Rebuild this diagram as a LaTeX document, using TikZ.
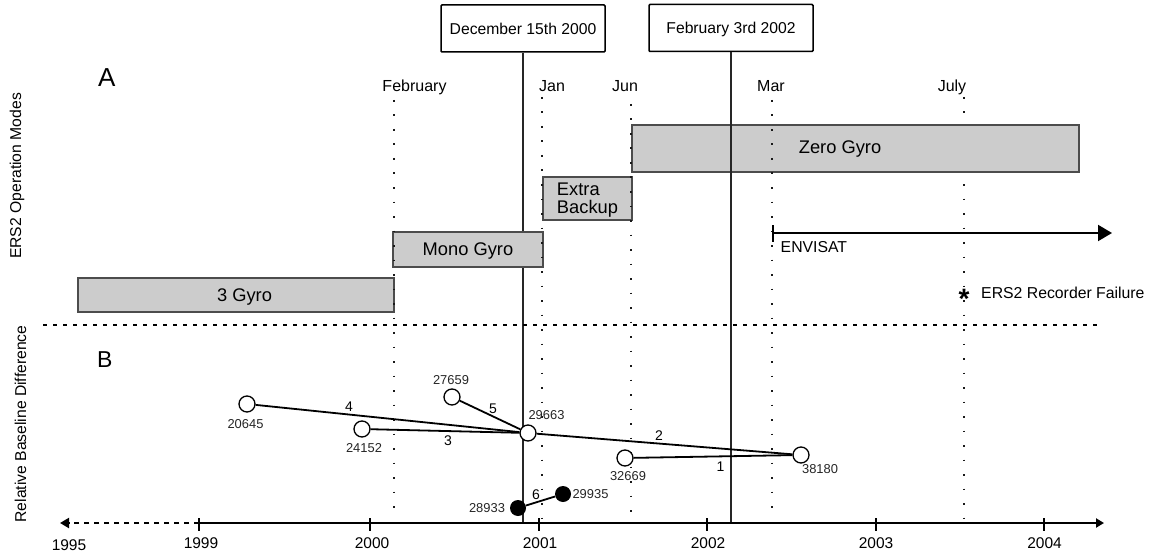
\documentclass[tikz,border=0pt]{standalone}
\usepackage{fontspec}
\setmainfont{Liberation Sans}
\usetikzlibrary{arrows.meta}
\begin{document}
\begin{tikzpicture}[x=1pt,y=-1pt,
  modebox/.style={draw=black!70, line width=1.4pt, fill=black!20, inner sep=0pt, text depth=0pt, font=\fontsize{18.3}{17.6}\selectfont},
  modetext/.style={inner sep=0pt, text depth=0pt, font=\fontsize{18.3}{17.6}\selectfont},
  datebox/.style={draw=black, line width=1.5pt, fill=white, rounded corners=1pt, inner sep=0pt, text depth=0pt, minimum width=164pt, minimum height=47pt, font=\fontsize{15.7}{18}\selectfont},
  monthlbl/.style={anchor=base, inner sep=0pt, font=\fontsize{16}{18}\selectfont},
  yearlbl/.style={anchor=base, inner sep=0pt, font=\fontsize{15.5}{18}\selectfont},
  numlbl/.style={anchor=base, inner sep=0pt, text=black!85, font=\fontsize{12.9}{15}\selectfont},
  edgelbl/.style={anchor=base, inner sep=0pt, font=\fontsize{14}{16}\selectfont},
  axislbl/.style={rotate=90, inner sep=0pt, font=\fontsize{15.7}{18}\selectfont},
  infolbl/.style={anchor=base west, inner sep=0pt, font=\fontsize{15.8}{18}\selectfont},
  panellbl/.style={anchor=base west, inner sep=0pt},
  dotline/.style={line width=1.8pt, dash pattern=on 1.8pt off 12.7pt, black!90},
  eventline/.style={line width=2pt, black!85},
  ocirc/.style={circle, draw=black, line width=1.3pt, fill=white, minimum size=16pt, inner sep=0pt},
  fcirc/.style={circle, fill=black, minimum size=16pt, inner sep=0pt},
  link/.style={line width=1.8pt, black},
  tick/.style={line width=2pt, black}
]
\useasboundingbox (0,0) rectangle (1155,556);

% panel labels
\node[panellbl, font=\fontsize{26}{28}\selectfont] (panA) at (98,87) {A};
\node[panellbl, font=\fontsize{23}{26}\selectfont] (panB) at (97,367) {B};
\node[axislbl] (ylabA) at (17,176) {ERS2 Operation Modes};
\node[axislbl] (ylabB) at (20.5,424) {Relative Baseline Difference};

% date boxes
\node[datebox] (decbox) at (523,28.5) {December 15th 2000};
\node[datebox] (febbox) at (731,28) {February 3rd 2002};

% axis coordinates
\coordinate (axL) at (60,523);
\coordinate (ax99) at (199,523);
\coordinate (axR) at (1104,523);

% December line (behind boxes)
\draw[eventline] (decbox.south) -- (decbox.south |- axR);

% July dotted (behind Zero Gyro)
\draw[dotline] (964,97) -- (964,520);

% mode boxes
\node[modebox, minimum width=316pt, minimum height=34pt,
      label={[modetext, xshift=8.5pt]center:3 Gyro}] (gyro3) at (236,295) {};
\node[modebox, minimum width=150pt, minimum height=35pt] (mono) at (468,249.5) {Mono Gyro};
\node[modebox, minimum width=89pt, minimum height=43pt, align=left] (extra) at (587.5,198.5) {Extra\\Backup};
\node[modebox, minimum width=447pt, minimum height=47pt,
      label={[modetext, xshift=-15.5pt, yshift=1.5pt]center:Zero Gyro}] (zero) at (855.5,148.5) {};

% February 2002 line (over boxes)
\draw[eventline] (febbox.south) -- (febbox.south |- axR);

% month dotted lines
\draw[dotline] (394,100) -- (394,520);
\draw[dotline] (542,97) -- (542,523);
\draw[dotline] (631,104) -- (631,520);
\draw[dotline] (772,100) -- (772,520);

% month labels
\node[monthlbl] (mFeb) at (414.5,92) {February};
\node[monthlbl] (mJan) at (552,92) {Jan};
\node[monthlbl] (mJun) at (625,92) {Jun};
\node[monthlbl] (mMar) at (771,92) {Mar};
\node[monthlbl] (mJul) at (952,92) {July};

% ENVISAT
\coordinate (envS) at (772,233);
\coordinate (envE) at (1112,233);
\draw[line width=2pt, {Bar[width=17pt]}-{Triangle[length=14pt,width=16pt]}] (envS) -- (envE);
\node[infolbl] (envlbl) at (780.5,252) {ENVISAT};

% recorder failure
\node[anchor=base, inner sep=0pt, font=\bfseries\fontsize{28}{30}\selectfont] (star) at (964,308) {*};
\node[infolbl] (failure) at (981,298) {ERS2 Recorder Failure};

% separator
\draw[line width=1.3pt, dash pattern=on 3.5pt off 6.5pt] (43,325) -- (1103,325);

% time axis
\draw[line width=2pt, dash pattern=on 5pt off 5pt, -{Triangle[length=9pt,width=10pt]}] (ax99) -- (axL);
\draw[line width=2pt, -{Triangle[length=8pt,width=9pt]}] (ax99) -- (axR);
\foreach \x in {199,370,539,707,876,1044} \draw[tick] (\x,518) -- (\x,531);

\node[yearlbl] (y1995) at (69,550) {1995};
\node[yearlbl] (y1999) at (201,548) {1999};
\node[yearlbl] (y2000) at (372,548) {2000};
\node[yearlbl] (y2001) at (540,548) {2001};
\node[yearlbl] (y2002) at (708,548) {2002};
\node[yearlbl] (y2003) at (876,548) {2003};
\node[yearlbl] (y2004) at (1044.5,548) {2004};

% baseline graph
\node[ocirc] (n20645) at (247,404) {};
\node[ocirc] (n24152) at (362,429) {};
\node[ocirc] (n27659) at (452,397) {};
\node[ocirc] (n29663) at (528,433) {};
\node[ocirc] (n32669) at (625,458) {};
\node[ocirc] (n38180) at (801,455) {};
\node[fcirc] (n28933) at (518,508) {};
\node[fcirc] (n29935) at (563,494) {};

\draw[link] (n20645) -- (n29663);
\draw[link] (n24152) -- (n29663);
\draw[link] (n27659) -- (n29663);
\draw[link] (n29663) -- (n38180);
\draw[link] (n32669) -- (n38180);
\draw[link] (n28933) -- (n29935);

\node[numlbl] (l20645) at (245.5,428) {20645};
\node[numlbl] (l24152) at (364,452.5) {24152};
\node[numlbl] (l27659) at (451,384) {27659};
\node[numlbl] (l29663) at (546.5,419) {29663};
\node[numlbl] (l32669) at (628,480.7) {32669};
\node[numlbl] (l38180) at (820,473) {38180};
\node[numlbl] (l28933) at (487,512.7) {28933};
\node[numlbl] (l29935) at (590.5,498) {29935};

\node[edgelbl] (e4) at (349,411.7) {4};
\node[edgelbl] (e3) at (448,445) {3};
\node[edgelbl] (e5) at (493,413) {5};
\node[edgelbl] (e2) at (659,440) {2};
\node[edgelbl] (e1) at (720.5,471.7) {1};
\node[edgelbl] (e6) at (536,499) {6};
\end{tikzpicture}
\end{document}
